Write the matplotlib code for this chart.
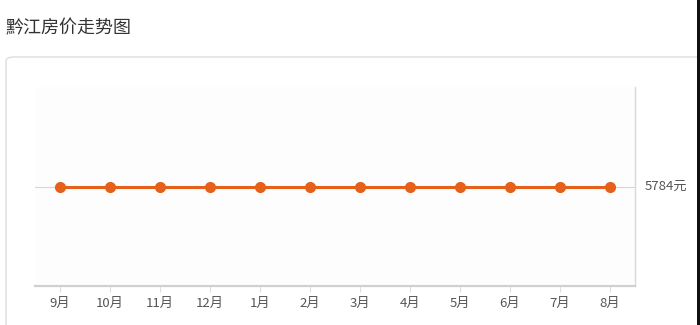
import matplotlib.pyplot as plt
import matplotlib.patches as mpatches
import numpy as np

plt.rcParams['font.family'] = ['Noto Sans CJK SC', 'DejaVu Sans']

# data
months = ['9月', '10月', '11月', '12月', '1月', '2月', '3月', '4月', '5月', '6月', '7月', '8月']
prices = [5784, 5784, 5784, 5784, 5784, 5784, 5784, 5784, 5784, 5784, 5784, 5784]
title = '黔江房价走势图'
unit = '元'

W, H = 700, 325
fig = plt.figure(figsize=(7, 3.25), dpi=100)
fig.patch.set_facecolor('white')

# title
fig.text(5 / W, 1 - 28 / H, title, fontsize=13, color='#333333', va='center', ha='left')

# card border (behind the axes)
card = mpatches.FancyBboxPatch((6 / W, -20 / H), 700 / W, (325 - 57 + 20) / H,
                               boxstyle='round,pad=0,rounding_size=0.012',
                               transform=fig.transFigure, facecolor='white',
                               edgecolor='#dddddd', linewidth=1.0, zorder=-10)
fig.patches.append(card)

# black strip on right edge
fig.patches.append(mpatches.Rectangle((697 / W, 0), 3 / W, 1, transform=fig.transFigure,
                                      facecolor='#111111', edgecolor='none', zorder=-5))

# plot area
ax = fig.add_axes([35 / W, 1 - 286 / H, 600 / W, 199 / H])
ax.set_zorder(5)
ax.set_facecolor('#fdfdfd')
x = np.arange(len(months))
ax.plot(x, prices, color='#e5601a', linewidth=2.2, marker='o', markersize=7, zorder=3)
ax.set_xlim(-0.5, len(months) - 0.5)
ax.set_ylim(0, prices[0] * 2)

ax.axhline(prices[0], color='#d6d6d6', linewidth=0.8, zorder=1)

for s in ['top', 'left']:
    ax.spines[s].set_visible(False)
ax.spines['right'].set_color('#d8d8d8')
ax.spines['right'].set_linewidth(1.0)
ax.spines['bottom'].set_color('#d0d0d0')
ax.spines['bottom'].set_linewidth(1.6)

ax.set_xticks(x)
ax.set_xticklabels(months, fontsize=9.5, color='#555555')
ax.tick_params(axis='x', length=4, color='#dddddd', pad=4)
ax.set_yticks([])

ax.text(len(months) - 0.5 + 10 / 50, prices[0], '%d%s' % (prices[0], unit),
        fontsize=9.5, color='#555555', va='center', ha='left')

fig.savefig('out.png', dpi=100)
